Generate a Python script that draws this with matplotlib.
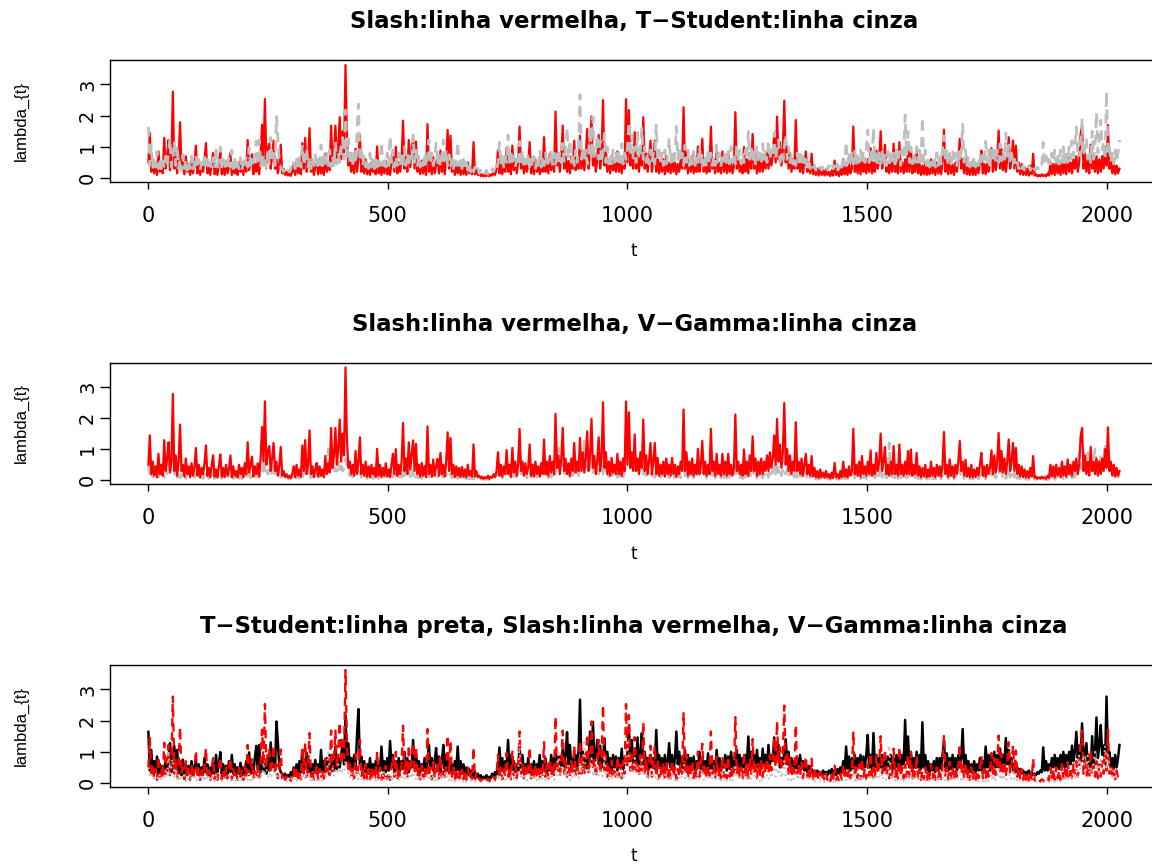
import numpy as np
import matplotlib
matplotlib.use("Agg")
import matplotlib.pyplot as plt

plt.rcParams['font.family'] = ['DejaVu Sans']

# lambda_t of each model, one value every 3 steps of t
t = np.arange(1, 2027, 3)

slash = [
    0.5, 1.44, 0.2, 0.6, 0.15, 0.45, 0.1, 0.85, 0.2, 0.5, 0.15, 1.29, 0.3, 0.7, 1.22, 0.25, 0.6, 2.77, 0.3, 0.8, 0.15, 0.6, 1.79, 0.3, 0.5,
    0.12, 0.7, 0.2, 0.45, 0.1, 0.55, 0.15, 0.4, 1.04, 0.15, 0.5, 0.1, 0.4, 0.2, 0.55, 1.12, 0.15, 0.4, 0.1, 0.5, 0.8, 0.12, 0.35, 0.1, 0.45,
    0.83, 0.12, 0.4, 0.1, 0.5, 0.15, 0.35, 0.8, 0.1, 0.45, 0.15, 0.3, 0.1, 0.5, 0.2, 0.4, 0.1, 0.55, 0.2, 1.22, 0.25, 0.5, 0.76, 0.12, 0.45,
    0.2, 0.55, 0.12, 0.7, 1.71, 0.6, 2.53, 0.5, 0.9, 1.1, 0.3, 0.7, 1.2, 0.3, 0.6, 0.15, 0.45, 1.07, 0.15, 0.3, 0.1, 0.2, 0.08, 0.15, 0.07,
    0.2, 0.45, 0.1, 0.5, 0.15, 0.35, 0.12, 1.12, 0.3, 1.29, 0.2, 0.5, 1.6, 0.2, 0.45, 0.1, 0.35, 0.56, 0.12, 0.45, 0.15, 0.35, 0.1, 0.78, 0.2,
    0.55, 0.25, 1.68, 0.4, 0.8, 1.68, 0.5, 1.0, 1.95, 0.6, 1.5, 0.8, 3.62, 1.29, 0.4, 0.6, 0.2, 0.5, 0.15, 0.94, 0.2, 0.6, 1.38, 0.2, 0.5,
    0.15, 0.6, 0.12, 0.45, 0.1, 0.5, 0.2, 0.4, 0.12, 1.01, 0.15, 0.5, 0.1, 0.4, 0.15, 0.55, 0.12, 0.35, 0.1, 0.5, 0.85, 0.2, 1.0, 0.15, 0.5,
    0.2, 0.6, 1.84, 0.3, 0.7, 0.2, 1.22, 0.35, 0.8, 1.28, 0.3, 1.17, 0.2, 0.5, 0.12, 0.56, 0.15, 0.45, 0.1, 1.73, 0.2, 0.5, 0.12, 0.67, 0.15,
    0.45, 0.69, 0.15, 0.88, 0.2, 0.5, 0.12, 0.6, 1.54, 0.3, 1.36, 0.2, 0.5, 0.1, 0.45, 0.15, 0.4, 0.1, 0.43, 0.12, 0.35, 0.1, 0.5, 0.15, 0.3,
    0.12, 1.15, 0.12, 0.3, 0.1, 0.15, 0.06, 0.12, 0.05, 0.1, 0.06, 0.15, 0.05, 0.12, 0.08, 0.2, 0.1, 0.3, 0.9, 0.15, 0.5, 0.12, 0.45, 0.2, 0.97,
    0.2, 0.5, 0.12, 1.04, 0.25, 0.6, 0.15, 0.5, 1.65, 0.3, 0.6, 0.15, 0.55, 0.2, 0.4, 1.15, 0.15, 0.5, 0.12, 0.6, 0.2, 0.45, 0.12, 0.55, 0.2,
    1.31, 0.2, 0.6, 0.15, 0.78, 0.25, 0.6, 0.2, 2.13, 0.4, 0.8, 0.2, 0.7, 1.68, 0.3, 0.69, 0.2, 0.55, 0.15, 0.7, 0.3, 1.2, 0.25, 0.6, 0.3,
    1.36, 0.3, 0.9, 0.25, 0.7, 1.57, 0.3, 0.8, 1.97, 0.4, 0.78, 0.2, 0.6, 1.38, 0.3, 0.7, 2.5, 0.4, 0.9, 0.2, 0.6, 0.15, 0.72, 0.25, 0.5,
    0.2, 0.85, 0.2, 0.6, 0.15, 0.7, 0.3, 2.53, 0.5, 2.18, 0.4, 0.9, 0.3, 1.47, 0.3, 0.7, 0.2, 0.9, 0.4, 1.95, 0.3, 0.8, 0.2, 0.6, 1.2,
    0.2, 0.6, 1.2, 0.2, 0.72, 0.15, 0.5, 0.2, 0.6, 0.12, 0.7, 0.2, 0.5, 0.15, 0.72, 0.2, 0.5, 0.12, 0.45, 0.2, 0.6, 0.3, 2.27, 0.3, 0.9,
    0.15, 0.6, 0.2, 0.7, 0.15, 0.5, 0.2, 1.01, 0.2, 0.5, 1.26, 0.2, 0.6, 0.15, 0.5, 0.2, 1.65, 0.3, 0.6, 0.15, 0.85, 0.2, 0.5, 0.15, 0.85,
    0.2, 0.6, 0.15, 0.85, 0.2, 0.5, 0.15, 0.4, 2.11, 0.3, 0.6, 0.2, 0.5, 0.15, 0.99, 0.2, 0.6, 0.15, 0.8, 0.3, 1.41, 0.3, 0.7, 0.15, 0.6,
    0.2, 0.7, 0.2, 0.6, 0.3, 0.8, 0.3, 0.9, 0.4, 0.7, 1.44, 0.5, 1.97, 0.6, 1.15, 0.4, 0.9, 2.48, 0.5, 1.0, 0.3, 0.8, 0.2, 0.6, 0.3,
    1.86, 0.3, 0.6, 0.2, 0.7, 0.15, 0.5, 0.85, 0.2, 0.5, 0.15, 0.78, 0.12, 0.4, 0.1, 0.3, 0.08, 0.35, 0.1, 0.25, 0.08, 0.3, 0.1, 0.2, 0.06,
    0.25, 0.08, 0.56, 0.1, 0.2, 0.06, 0.3, 0.1, 0.6, 0.12, 0.35, 0.1, 0.45, 0.15, 0.3, 1.65, 0.2, 0.5, 0.15, 0.6, 0.12, 0.78, 0.2, 0.45, 0.15,
    0.6, 0.2, 0.96, 0.15, 0.5, 0.2, 0.88, 0.3, 0.6, 1.5, 0.3, 0.6, 1.07, 0.2, 0.5, 0.15, 0.6, 0.2, 1.1, 0.2, 0.5, 0.15, 1.15, 0.2, 0.5,
    0.15, 0.6, 0.2, 0.94, 0.2, 0.99, 0.15, 0.5, 0.2, 0.88, 0.15, 0.45, 0.1, 0.4, 0.12, 0.5, 0.1, 0.35, 0.12, 0.6, 0.15, 0.4, 0.1, 0.5, 0.15,
    0.45, 0.12, 0.5, 1.55, 0.2, 0.5, 0.12, 0.67, 0.15, 0.45, 0.1, 0.5, 0.2, 0.6, 1.26, 0.3, 0.6, 0.15, 0.66, 0.12, 0.4, 0.1, 0.5, 0.1, 0.35,
    0.1, 0.4, 0.15, 0.5, 0.88, 0.15, 0.45, 0.12, 0.5, 0.2, 0.4, 0.96, 0.2, 0.8, 0.25, 0.6, 1.52, 0.3, 0.94, 0.25, 0.7, 0.2, 0.6, 1.31, 0.3,
    0.6, 1.2, 0.3, 1.04, 0.2, 0.5, 0.12, 0.45, 0.1, 0.35, 0.1, 0.3, 0.08, 0.4, 0.12, 0.78, 0.08, 0.12, 0.05, 0.1, 0.05, 0.12, 0.06, 0.1, 0.05,
    0.15, 0.08, 0.5, 0.12, 0.45, 0.1, 0.5, 0.15, 0.4, 0.1, 0.6, 0.15, 0.45, 0.12, 0.67, 0.2, 0.5, 0.15, 0.6, 0.3, 0.7, 0.2, 0.5, 1.41, 1.68,
    0.3, 0.8, 0.2, 0.6, 0.15, 1.07, 0.3, 0.6, 0.2, 0.7, 0.15, 0.6, 0.2, 0.7, 0.3, 1.0, 0.4, 1.7, 0.3, 0.6, 0.15, 0.5, 0.12, 0.4, 0.15,
    0.3,
]

tstudent = [
    1.64, 0.4, 1.06, 0.3, 0.7, 0.35, 0.85, 0.3, 0.6, 0.25, 0.55, 0.3, 0.7, 0.4, 0.8, 1.28, 0.35, 0.6, 1.19, 0.4, 1.06, 0.3, 0.6, 0.25, 0.75,
    0.3, 0.6, 0.25, 0.55, 0.3, 0.7, 0.25, 0.5, 0.74, 0.3, 0.6, 0.25, 0.5, 0.3, 0.8, 0.35, 0.6, 0.25, 0.5, 0.3, 0.65, 0.3, 0.9, 0.35, 0.6,
    0.99, 0.3, 0.6, 0.25, 0.55, 0.3, 0.7, 0.35, 0.9, 0.3, 0.6, 0.25, 0.5, 0.3, 0.65, 0.25, 0.5, 0.3, 0.7, 0.35, 0.98, 0.3, 0.6, 0.35, 0.8,
    1.19, 0.4, 1.22, 0.35, 0.8, 0.4, 0.6, 0.3, 0.9, 0.4, 1.3, 0.5, 0.8, 0.4, 1.97, 1.3, 0.5, 0.35, 0.3, 0.2, 0.3, 0.18, 0.25, 0.2, 0.35,
    0.25, 0.5, 0.3, 0.6, 0.25, 0.7, 0.35, 1.06, 0.4, 0.6, 0.96, 0.35, 0.7, 0.3, 0.6, 0.4, 0.74, 0.3, 0.6, 0.35, 1.06, 0.4, 0.7, 0.35, 0.8,
    0.4, 0.9, 0.35, 0.7, 0.4, 1.17, 0.45, 0.8, 0.5, 0.9, 1.3, 0.6, 2.18, 0.7, 1.27, 0.5, 0.8, 0.4, 0.9, 0.45, 1.54, 2.37, 0.6, 0.85, 0.4,
    0.7, 0.35, 0.6, 0.3, 0.8, 0.35, 0.6, 0.3, 0.7, 0.35, 0.6, 0.4, 1.17, 0.4, 0.7, 0.35, 0.8, 0.4, 1.35, 0.5, 0.9, 0.35, 0.7, 0.4, 0.8,
    0.4, 0.7, 0.45, 1.0, 0.4, 0.8, 0.35, 0.7, 0.5, 1.38, 0.5, 0.95, 0.4, 0.7, 0.35, 0.6, 0.4, 0.8, 0.35, 0.7, 1.22, 0.45, 0.8, 0.4, 0.7,
    1.12, 0.4, 0.85, 0.35, 0.7, 1.22, 0.45, 0.9, 0.4, 0.75, 0.35, 0.6, 0.3, 0.7, 0.4, 1.17, 0.4, 0.7, 0.3, 0.6, 0.3, 0.5, 0.25, 0.45, 0.2,
    0.4, 0.2, 0.35, 0.18, 0.3, 0.15, 0.25, 0.12, 0.2, 0.15, 0.25, 0.12, 0.2, 0.15, 0.3, 0.2, 0.35, 0.25, 0.5, 1.14, 0.4, 0.8, 0.35, 0.7, 0.5,
    1.38, 0.45, 0.9, 0.4, 0.7, 0.35, 0.6, 0.4, 1.17, 0.4, 0.9, 0.3, 0.6, 0.35, 0.8, 0.3, 0.6, 0.35, 0.7, 0.3, 0.6, 0.4, 0.9, 0.35, 0.7,
    0.4, 0.8, 0.35, 0.6, 0.4, 0.9, 0.4, 0.8, 0.45, 0.9, 0.4, 0.85, 0.5, 1.11, 0.5, 0.9, 1.63, 0.6, 1.22, 0.5, 0.8, 0.4, 0.9, 0.5, 1.0,
    2.67, 0.6, 1.0, 0.5, 0.9, 0.45, 0.8, 1.65, 0.6, 1.96, 0.7, 0.9, 1.38, 0.6, 1.2, 0.5, 0.8, 1.43, 0.5, 1.0, 0.45, 0.8, 0.4, 0.9, 0.5,
    0.85, 0.4, 0.8, 0.5, 1.1, 0.45, 0.8, 0.6, 1.0, 1.8, 0.7, 1.38, 0.6, 1.0, 0.5, 1.46, 0.6, 0.9, 1.6, 0.6, 1.0, 0.5, 0.8, 0.45, 0.9,
    0.5, 0.8, 0.45, 1.7, 0.6, 0.9, 0.5, 0.8, 0.4, 0.9, 0.45, 0.7, 1.28, 0.5, 0.9, 0.4, 0.8, 1.65, 0.6, 1.0, 0.5, 0.8, 0.4, 1.05, 0.5,
    0.9, 0.4, 0.8, 0.45, 0.85, 0.4, 0.7, 0.5, 1.0, 0.45, 0.8, 0.4, 0.7, 0.35, 0.95, 0.45, 0.8, 0.4, 0.7, 0.4, 1.06, 0.45, 0.8, 0.4, 0.7,
    0.5, 0.9, 0.4, 0.85, 0.45, 1.0, 0.5, 0.8, 0.45, 1.06, 0.5, 0.9, 0.45, 0.8, 0.5, 0.9, 0.6, 1.49, 0.6, 1.0, 0.5, 0.9, 0.45, 1.06, 0.5,
    0.8, 0.45, 1.1, 0.6, 0.9, 0.5, 1.22, 0.6, 0.9, 0.7, 1.46, 0.6, 0.9, 1.22, 0.5, 0.8, 0.6, 1.0, 1.4, 0.6, 1.0, 0.5, 0.8, 0.45, 0.7,
    0.4, 0.8, 0.4, 0.9, 0.45, 0.7, 0.4, 0.6, 0.35, 0.55, 0.3, 0.45, 0.3, 0.4, 0.25, 0.4, 0.3, 0.35, 0.25, 0.4, 0.3, 0.35, 0.25, 0.4, 0.3,
    0.45, 0.3, 0.4, 0.25, 0.45, 0.3, 0.5, 0.35, 0.7, 0.4, 1.17, 0.45, 0.85, 0.4, 0.8, 0.45, 0.9, 0.4, 0.8, 0.5, 0.9, 0.45, 0.85, 0.5, 0.9,
    1.54, 0.5, 0.9, 0.45, 1.6, 0.5, 0.9, 0.4, 0.8, 0.45, 0.9, 0.4, 0.8, 0.4, 0.85, 0.45, 0.9, 0.4, 0.8, 0.45, 0.9, 0.5, 0.85, 0.4, 0.9,
    0.6, 2.02, 0.7, 1.49, 0.5, 1.0, 0.45, 0.8, 0.5, 1.0, 0.5, 0.9, 0.45, 1.95, 0.5, 0.9, 0.4, 0.7, 0.35, 0.6, 0.4, 0.7, 0.35, 0.8, 0.4,
    0.8, 0.45, 0.9, 1.35, 0.5, 0.95, 0.4, 0.8, 0.45, 0.9, 0.5, 0.8, 0.4, 0.9, 0.5, 0.8, 1.73, 0.5, 0.9, 0.4, 0.7, 0.35, 0.6, 0.4, 0.7,
    0.35, 0.6, 0.4, 0.8, 0.4, 0.7, 0.45, 1.17, 0.5, 0.9, 0.4, 0.9, 0.5, 1.0, 0.5, 0.9, 0.5, 1.1, 0.55, 0.9, 0.6, 1.44, 0.6, 1.06, 0.5,
    0.8, 0.4, 0.6, 0.35, 0.5, 0.3, 0.45, 0.3, 0.4, 0.25, 0.35, 0.3, 0.4, 0.25, 0.35, 0.2, 0.3, 0.25, 0.35, 0.3, 0.4, 0.35, 1.14, 0.4, 0.7,
    0.4, 0.6, 0.45, 0.8, 0.5, 0.9, 0.5, 0.8, 0.45, 0.9, 0.5, 1.0, 0.5, 0.9, 0.5, 1.0, 0.6, 1.2, 0.7, 1.0, 1.64, 0.8, 1.2, 0.7, 1.91,
    0.7, 1.0, 1.28, 0.6, 0.9, 0.5, 1.5, 0.6, 1.0, 2.1, 0.8, 1.2, 1.86, 0.9, 1.2, 0.6, 2.77, 0.8, 1.0, 0.5, 0.8, 0.45, 0.9, 0.5, 0.8,
    1.22,
]

vgamma = [
    0.5, 0.2, 0.3, 0.1, 0.25, 0.08, 0.2, 0.1, 0.3, 0.12, 0.25, 0.1, 0.4, 0.2, 1.04, 0.3, 0.5, 0.78, 0.2, 0.4, 0.1, 0.3, 0.08, 0.2, 0.1,
    0.25, 0.06, 0.2, 0.08, 0.3, 0.06, 0.2, 0.1, 0.25, 0.06, 0.2, 0.08, 0.3, 0.06, 0.25, 0.08, 0.2, 0.06, 0.15, 0.08, 0.25, 0.06, 0.3, 0.08, 0.2,
    0.25, 0.06, 0.2, 0.08, 0.15, 0.06, 0.25, 0.08, 0.2, 0.06, 0.15, 0.08, 0.2, 0.06, 0.15, 0.05, 0.2, 0.08, 0.25, 0.1, 0.3, 0.08, 0.2, 0.1, 0.25,
    0.1, 0.35, 0.12, 0.3, 0.2, 0.67, 0.3, 0.45, 0.2, 0.35, 0.15, 0.3, 0.5, 0.2, 0.35, 0.15, 0.25, 0.1, 0.15, 0.06, 0.1, 0.05, 0.08, 0.04, 0.06,
    0.15, 0.05, 0.2, 0.08, 0.15, 0.06, 0.25, 0.1, 0.3, 0.12, 0.35, 0.1, 0.25, 0.08, 0.2, 0.06, 0.25, 0.08, 0.2, 0.1, 0.3, 0.08, 0.2, 0.35, 0.15,
    1.0, 0.4, 0.25, 0.5, 0.2, 0.4, 0.3, 0.6, 0.3, 0.5, 0.3, 0.4, 0.7, 0.4, 0.3, 0.15, 0.35, 0.1, 0.3, 0.15, 0.4, 0.12, 0.3, 0.1, 0.2,
    0.08, 0.2, 0.06, 0.15, 0.08, 0.2, 0.06, 0.25, 0.08, 0.2, 0.06, 0.15, 0.08, 0.25, 0.1, 0.2, 0.08, 0.3, 0.1, 0.25, 0.1, 0.3, 0.15, 0.25, 0.1,
    0.25, 0.1, 0.4, 0.15, 0.3, 0.1, 0.3, 0.12, 0.35, 0.15, 0.3, 0.1, 0.2, 0.08, 0.2, 0.06, 0.25, 0.08, 0.2, 0.3, 0.1, 0.2, 0.08, 0.25, 0.08,
    0.2, 0.1, 0.25, 0.08, 0.3, 0.1, 0.35, 0.15, 0.25, 0.1, 0.2, 0.08, 0.15, 0.05, 0.2, 0.06, 0.15, 0.05, 0.12, 0.05, 0.15, 0.04, 0.2, 0.05, 0.1,
    0.04, 0.1, 0.04, 0.06, 0.03, 0.05, 0.03, 0.04, 0.03, 0.05, 0.03, 0.04, 0.03, 0.05, 0.04, 0.06, 0.05, 0.1, 0.3, 0.1, 0.2, 0.08, 0.25, 0.1, 0.35,
    0.1, 0.2, 0.08, 0.4, 0.12, 0.3, 0.1, 0.3, 1.25, 0.2, 0.3, 0.1, 0.25, 0.08, 0.2, 0.35, 0.1, 0.2, 0.08, 0.25, 0.1, 0.2, 0.08, 0.3, 0.1,
    0.4, 0.1, 0.25, 0.08, 0.3, 0.1, 0.25, 0.1, 0.35, 0.2, 1.04, 0.3, 0.45, 0.6, 0.2, 0.4, 0.15, 0.3, 0.1, 0.35, 0.15, 0.5, 0.2, 0.35, 0.15,
    0.6, 0.3, 0.5, 1.3, 0.4, 0.5, 0.3, 0.4, 0.8, 0.2, 0.5, 0.3, 0.6, 0.2, 0.4, 0.3, 0.2, 0.9, 0.3, 0.4, 0.12, 0.3, 0.1, 0.3, 0.15,
    0.35, 0.1, 0.3, 0.12, 0.35, 0.1, 0.3, 0.8, 1.4, 0.8, 0.5, 0.3, 0.4, 0.9, 0.3, 0.5, 0.2, 0.4, 0.85, 0.2, 0.4, 0.15, 0.3, 0.1, 0.25,
    0.15, 0.35, 0.1, 0.25, 0.08, 0.2, 0.1, 0.25, 0.08, 0.3, 0.1, 0.25, 0.08, 0.2, 0.1, 0.25, 0.08, 0.2, 0.06, 0.2, 0.08, 0.25, 0.6, 0.15, 0.3,
    0.08, 0.25, 0.1, 0.3, 0.08, 0.2, 0.1, 0.3, 0.1, 0.2, 0.4, 0.1, 0.25, 0.08, 0.2, 0.1, 0.5, 0.15, 0.3, 0.08, 0.3, 0.1, 0.2, 0.08, 0.3,
    0.1, 0.2, 0.08, 0.3, 0.1, 0.2, 0.08, 0.15, 0.6, 0.15, 0.2, 0.08, 0.2, 0.06, 0.3, 0.1, 0.25, 0.08, 0.25, 0.1, 0.4, 0.15, 0.25, 0.08, 0.2,
    0.06, 0.2, 0.08, 0.2, 0.1, 0.25, 0.1, 0.3, 0.15, 0.3, 0.45, 0.2, 0.6, 0.25, 0.4, 0.15, 0.35, 0.7, 0.2, 0.35, 0.1, 0.3, 0.08, 0.2, 0.1,
    0.45, 0.1, 0.2, 0.08, 0.25, 0.06, 0.15, 0.3, 0.06, 0.15, 0.05, 0.25, 0.04, 0.1, 0.04, 0.08, 0.03, 0.1, 0.04, 0.08, 0.03, 0.1, 0.04, 0.06, 0.03,
    0.08, 0.03, 0.15, 0.04, 0.06, 0.03, 0.1, 0.04, 0.2, 0.05, 0.1, 0.05, 0.15, 0.06, 0.1, 0.45, 0.08, 0.2, 0.06, 0.2, 0.05, 0.25, 0.08, 0.15, 0.06,
    0.2, 0.08, 0.3, 0.06, 0.15, 0.08, 0.3, 0.1, 0.2, 0.45, 0.1, 0.2, 0.35, 0.08, 0.2, 1.2, 0.2, 0.1, 0.35, 0.08, 0.2, 0.06, 0.35, 0.08, 0.2,
    0.06, 0.2, 0.08, 0.3, 0.08, 0.3, 0.06, 0.15, 0.08, 0.3, 0.06, 0.15, 0.04, 0.12, 0.05, 0.15, 0.04, 0.12, 0.05, 0.2, 0.05, 0.12, 0.04, 0.15, 0.05,
    0.15, 0.05, 0.15, 0.45, 0.06, 0.15, 0.05, 0.2, 0.06, 0.15, 0.04, 0.15, 0.06, 0.2, 0.35, 0.1, 0.2, 0.06, 0.2, 0.05, 0.12, 0.04, 0.15, 0.04, 0.1,
    0.04, 0.12, 0.05, 0.15, 0.25, 0.05, 0.15, 0.04, 0.15, 0.06, 0.12, 0.3, 0.06, 0.25, 0.08, 0.2, 0.45, 0.1, 0.3, 0.08, 0.2, 0.06, 0.2, 0.4, 0.1,
    0.2, 0.35, 0.1, 0.3, 0.06, 0.15, 0.04, 0.12, 0.03, 0.1, 0.03, 0.08, 0.03, 0.1, 0.04, 0.2, 0.03, 0.04, 0.02, 0.03, 0.02, 0.04, 0.03, 0.04, 0.02,
    0.05, 0.03, 0.15, 0.04, 0.12, 0.03, 0.15, 0.05, 0.12, 0.04, 0.2, 0.05, 0.15, 0.04, 0.25, 0.06, 0.2, 0.08, 0.3, 0.1, 0.4, 0.2, 0.88, 0.4, 0.6,
    0.9, 0.3, 0.5, 0.88, 0.3, 0.5, 0.3, 0.7, 1.0, 0.4, 0.6, 0.3, 0.8, 0.4, 0.6, 1.2, 0.5, 0.9, 0.4, 0.5, 0.2, 0.4, 0.1, 0.3, 0.1,
    0.2,
]

assert len(slash) == len(t) and len(tstudent) == len(t) and len(vgamma) == len(t)

titles = [
    "Slash:linha vermelha, T\u2212Student:linha cinza",
    "Slash:linha vermelha, V\u2212Gamma:linha cinza",
    "T\u2212Student:linha preta, Slash:linha vermelha, V\u2212Gamma:linha cinza",
]

GRAY = "#BEBEBE"

fig = plt.figure(figsize=(11.52, 8.64), dpi=100)
# three stacked panels; the right edge runs past the figure
bottoms = [0.7896, 0.4397, 0.0894]
axes = [fig.add_axes([0.0951, b, 0.9108, 0.1405]) for b in bottoms]
ax1, ax2, ax3 = axes

ax1.plot(t, slash, color="red", lw=1.6)
ax1.plot(t, tstudent, color=GRAY, lw=2.0, dashes=(3.5, 2.5))

ax2.plot(t, vgamma, color=GRAY, lw=2.0, dashes=(3.5, 2.5))
ax2.plot(t, slash, color="red", lw=1.6)

ax3.plot(t, tstudent, color="black", lw=1.8)
ax3.plot(t, slash, color="red", lw=1.7, dashes=(3.5, 2.5))
ax3.plot(t, vgamma, color=GRAY, lw=1.4, dashes=(1, 2.5))

for ax, ttl in zip(axes, titles):
    ax.set_xlim(-80, 2108)
    ax.set_ylim(-0.12, 3.77)
    ax.set_xticks([0, 500, 1000, 1500, 2000])
    ax.set_yticks([0, 1, 2, 3])
    ax.tick_params(axis="x", direction="out", length=5, width=1, labelsize=15, pad=12.5)
    ax.tick_params(axis="y", direction="out", length=7, width=1, labelsize=14, pad=2)
    for lab in ax.get_yticklabels():
        lab.set_rotation(90)
        lab.set_va("center")
    for sp in ax.spines.values():
        sp.set_linewidth(1)
    ax.set_title(ttl, fontsize=16.4, fontweight="bold", pad=23)
    ax.set_xlabel("t", fontsize=12)
    ax.xaxis.set_label_coords(0.5, -0.50)
    ax.set_ylabel("lambda_{t}", fontsize=12, family="Liberation Sans")
    ax.yaxis.set_label_coords(-0.077, 0.5)

fig.savefig("out.png", dpi=100)
